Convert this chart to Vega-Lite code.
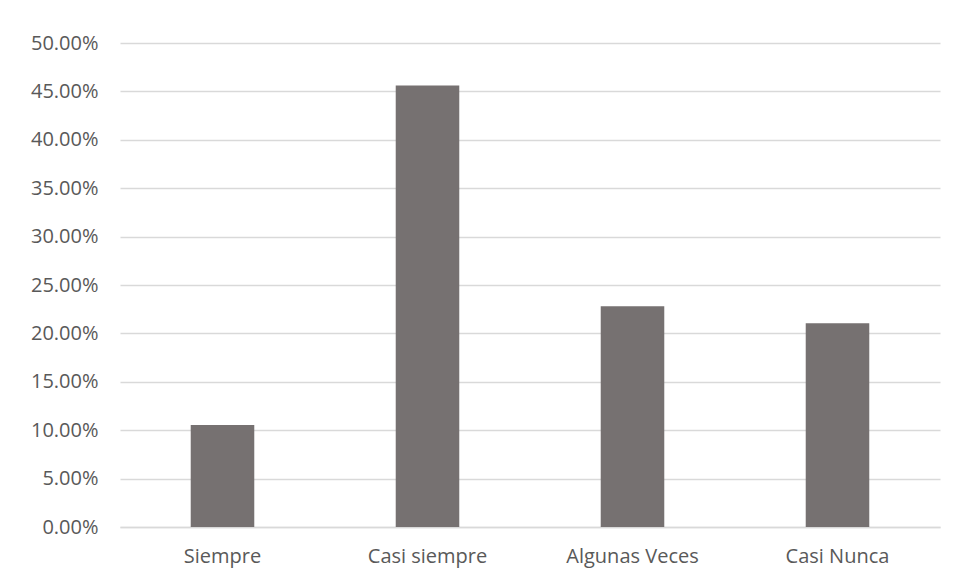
{
  "$schema": "https://vega.github.io/schema/vega-lite/v6.json",
  "width": 820,
  "height": 484,
  "autosize": {"type": "none"},
  "padding": {"left": 120, "top": 43, "right": 16, "bottom": 55},
  "background": "white",
  "config": {"view": {"stroke": null}, "font": "Open Sans"},
  "data": {"values": [
    {"categoria": "Siempre", "porcentaje": 0.1053},
    {"categoria": "Casi siempre", "porcentaje": 0.4561},
    {"categoria": "Algunas Veces", "porcentaje": 0.2281},
    {"categoria": "Casi Nunca", "porcentaje": 0.2105}
  ]},
  "mark": {"type": "bar", "color": "#767171"},
  "encoding": {
    "x": {
      "field": "categoria", "type": "nominal", "sort": null,
      "scale": {"paddingInner": 0.69, "paddingOuter": 0.345},
      "axis": {"title": null, "labelAngle": 0, "labelFontSize": 20, "labelColor": "#595959", "labelPadding": 19, "ticks": false, "domainColor": "#d9d9d9", "domainWidth": 1.5, "grid": false, "labelOverlap": false}
    },
    "y": {
      "field": "porcentaje", "type": "quantitative",
      "scale": {"domain": [0, 0.5]},
      "axis": {"title": null, "format": ".2%", "values": [0, 0.05, 0.1, 0.15, 0.2, 0.25, 0.3, 0.35, 0.4, 0.45, 0.5], "labelFontSize": 20, "labelColor": "#595959", "labelPadding": 22, "ticks": false, "domain": false, "gridColor": "#d9d9d9", "gridWidth": 1.5, "labelOverlap": false}
    }
  }
}
